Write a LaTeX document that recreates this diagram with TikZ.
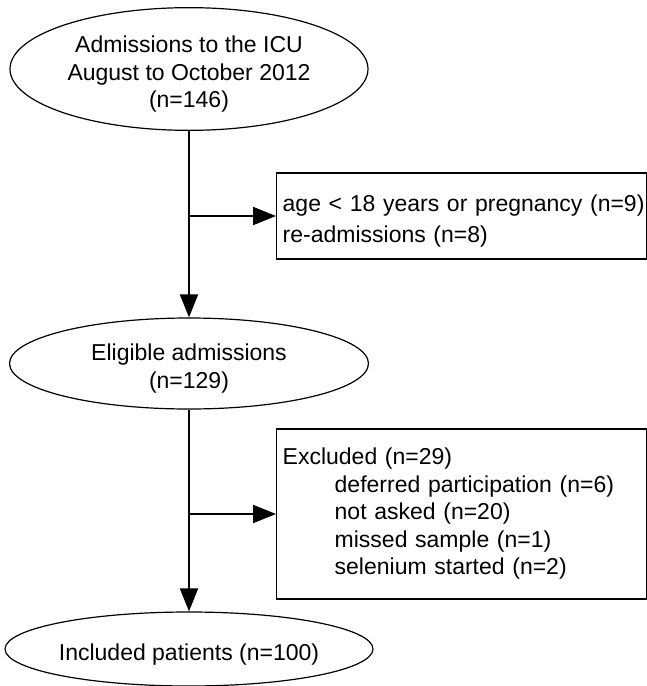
\documentclass[tikz,border=0pt]{standalone}
\usepackage{fontspec}
\setmainfont{Liberation Sans}
\usetikzlibrary{arrows.meta,positioning,shapes.geometric}
\newcommand{\stagestrut}{\rule{0pt}{13.5pt}}

\begin{document}
\begin{tikzpicture}[x=0.5pt,y=-0.5pt,
  stage/.style={draw,ellipse,line width=0.6pt,inner sep=0pt,align=center,font=\fontsize{11.5}{13.75}\selectfont},
  exclbox/.style={draw,line width=0.7pt,anchor=west,inner xsep=3pt,text width=179pt,align=left,font=\fontsize{11.5}{13.75}\selectfont},
  flow/.style={line width=1pt},
  flowarrow/.style={flow,-{Triangle[length=11.5pt,width=9pt]}}]
  \useasboundingbox (0,0) rectangle (647,686);
  % Stages
  \node[stage,minimum width=179pt,minimum height=58pt] (icu) at (189,69) {\stagestrut Admissions to the ICU\\August to October 2012\\(n=146)};
  \node[stage,minimum width=179.5pt,minimum height=45.5pt] (elig) at (189,363.5) {\stagestrut Eligible admissions\\(n=129)};
  \node[stage,minimum width=180pt,minimum height=37pt] (incl) at (189,649) {\stagestrut Included patients (n=100)};
  % Exclusions
  \node[exclbox,minimum height=43pt] (age) at (276,216) {\stagestrut\mbox{age < 18 years or pregnancy (n=9)}\\[1.5pt]re-admissions (n=8)};
  \node[exclbox,minimum height=85pt] (excl) at (276,514) {Excluded (n=29)\\
    \hspace*{26pt}deferred participation (n=6)\\
    \hspace*{26pt}not asked (n=20)\\
    \hspace*{26pt}missed sample (n=1)\\
    \hspace*{26pt}selenium started (n=2)};
  % Flow
  \draw[flowarrow] (icu) -- (elig);
  \draw[flowarrow] (elig) -- (incl);
  \coordinate (split1) at (icu.south |- age.west);
  \coordinate (split2) at (elig.south |- excl.west);
  \draw[flowarrow] (split1) -- (age.west);
  \draw[flowarrow] (split2) -- (excl.west);
\end{tikzpicture}
\end{document}
